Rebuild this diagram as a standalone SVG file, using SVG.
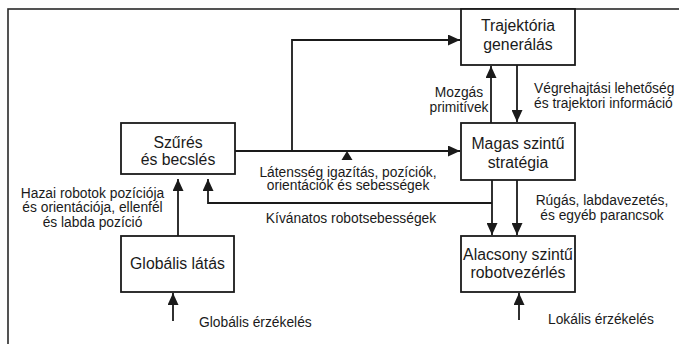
<svg xmlns="http://www.w3.org/2000/svg" width="679" height="344" viewBox="0 0 679 344">
<style>
.box{fill:#fff;stroke:#1a1a1a;stroke-width:1.8}
.frame{fill:none;stroke:#2a2a2a;stroke-width:1.6}
.ln{fill:none;stroke:#1a1a1a;stroke-width:1.8}
.nt{font-family:"Liberation Sans",Arial,sans-serif;font-size:15.8px;fill:#1a1a1a;text-anchor:middle}
.lb{font-family:"Liberation Sans",Arial,sans-serif;font-size:13.8px;fill:#1a1a1a}
.c{text-anchor:middle}
</style>
<defs>
<marker id="ah" markerUnits="userSpaceOnUse" markerWidth="13" markerHeight="11" refX="12" refY="5.5" orient="auto">
<path d="M0,0 L12,5.5 L0,11 z" fill="#1a1a1a"/>
</marker>
</defs>
<rect width="679" height="344" fill="#fff"/>
<rect class="frame" x="8" y="9" width="720" height="400"/>
<g id="connectors">
<path class="ln" d="M235,151 H460" marker-end="url(#ah)"/>
<path class="ln" d="M292,151 V40 H460" marker-end="url(#ah)"/>
<path class="ln" d="M491,123 V66" marker-end="url(#ah)"/>
<path class="ln" d="M517,65 V122" marker-end="url(#ah)"/>
<path class="ln" d="M492,180 V235" marker-end="url(#ah)"/>
<path class="ln" d="M517,180 V235" marker-end="url(#ah)"/>
<path class="ln" d="M492,203 H208 V179" marker-end="url(#ah)"/>
<path class="ln" d="M178,236 V179" marker-end="url(#ah)"/>
<path class="ln" d="M173,321 V293" marker-end="url(#ah)"/>
<path class="ln" d="M519,320 V293" marker-end="url(#ah)"/>
<polygon points="347,151 341.5,160 352.5,160" fill="#1a1a1a"/>
</g>
<g id="trajektoria">
<rect class="box" x="461" y="9" width="114" height="56"/>
<text class="nt" x="518" y="31">Trajektória</text>
<text class="nt" x="518" y="50">generálás</text>
</g>
<g id="magas">
<rect class="box" x="461" y="123" width="114" height="57"/>
<text class="nt" x="518" y="149">Magas szintű</text>
<text class="nt" x="518" y="168">stratégia</text>
</g>
<g id="alacsony">
<rect class="box" x="461" y="236" width="114" height="56"/>
<text class="nt" x="518" y="259.5">Alacsony szintű</text>
<text class="nt" x="518" y="278">robotvezérlés</text>
</g>
<g id="szures">
<rect class="box" x="121" y="123" width="114" height="51"/>
<text class="nt" x="178" y="147.5">Szűrés</text>
<text class="nt" x="178" y="164.5">és becslés</text>
</g>
<g id="globalis">
<rect class="box" x="121" y="236" width="113" height="56"/>
<text class="nt" x="177.5" y="269">Globális látás</text>
</g>
<g id="labels">
<text class="lb c" x="92.5" y="197.5">Hazai robotok pozíciója</text>
<text class="lb c" x="92.5" y="212">és orientációja, ellenfél</text>
<text class="lb c" x="92.5" y="226.5">és labda pozíció</text>
<text class="lb c" x="348" y="176.5">Látensség igazítás, pozíciók,</text>
<text class="lb c" x="348" y="190">orientációk és sebességek</text>
<text class="lb c" x="351" y="223">Kívánatos robotsebességek</text>
<text class="lb c" x="459" y="97">Mozgás</text>
<text class="lb c" x="459" y="111.5">primitívek</text>
<text class="lb" x="534" y="93">Végrehajtási lehetőség</text>
<text class="lb" x="534" y="107.5">és trajektori információ</text>
<text class="lb c" x="602" y="205">Rúgás, labdavezetés,</text>
<text class="lb c" x="602" y="220">és egyéb parancsok</text>
<text class="lb" x="199" y="327">Globális érzékelés</text>
<text class="lb" x="548" y="324">Lokális érzékelés</text>
</g>
</svg>
